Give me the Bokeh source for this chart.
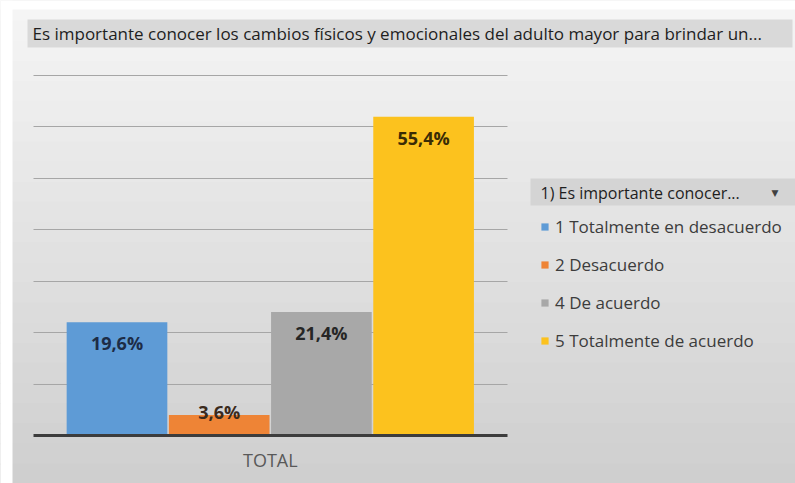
from bokeh.plotting import figure
from bokeh.models import (ColumnDataSource, Range1d, Label, Legend, LegendItem,
                          SingleIntervalTicker, FixedTicker, BoxAnnotation, Grid)
from bokeh.embed import file_html
from bokeh.resources import INLINE
from bokeh.core.properties import value

# ---- data ----
group_label = ["TOTAL"]
categories = ["1 Totalmente en desacuerdo", "2 Desacuerdo", "4 De acuerdo", "5 Totalmente de acuerdo"]
counts = [11, 2, 12, 31]            # respondents (n = 56)
pct_labels = ["19,6%", "3,6%", "21,4%", "55,4%"]
colors = ["#5e9bd6", "#ee8436", "#a8a8a8", "#fcc21e"]
label_colors = ["#1d2c46", "#3a2a1c", "#262626", "#3a2c05"]
title_text = "Es importante conocer los cambios  físicos y emocionales del adulto mayor para brindar un..."
legend_title = "1) Es importante conocer..."

W, H = 795, 483
xpos = list(range(len(categories)))
p = figure(width=W, height=H, output_backend="svg", toolbar_location=None,
           x_range=Range1d(-1.1399, 6.639), y_range=Range1d(-4.667, 42.292),
           x_axis_location=None, y_axis_location=None,
           min_border_left=0, min_border_right=0, min_border_top=0, min_border_bottom=0)
p.border_fill_color = "#e6e6e6"
p.background_fill_color = "#e6e6e6"
p.outline_line_color = None
p.grid.visible = False

# background vertical gradient (bands in screen px from bottom of canvas)
nb = 24
c0, c1 = 0xf5, 0xcf
for k in range(nb):
    t = k / (nb - 1)
    g = int(round(c0 + (c1 - c0) * t))
    col = "#%02x%02x%02x" % (g, g, g)
    top = H - k * H / nb
    bot = H - (k + 1) * H / nb - 1
    p.add_layout(BoxAnnotation(top=top, bottom=max(bot, 0), left=0, right=W,
                               top_units="screen", bottom_units="screen",
                               left_units="screen", right_units="screen",
                               fill_color=col, fill_alpha=1, line_alpha=0, level="image"))
# white outer strips
for l, r_, t_, b_ in [(0, 12, H, 0), (0, W, H, H - 9)]:
    p.add_layout(BoxAnnotation(top=t_, bottom=b_, left=l, right=r_, top_units="screen",
                               bottom_units="screen", left_units="screen", right_units="screen",
                               fill_color="white", fill_alpha=1, line_alpha=0, level="image"))

# grid lines restricted to the plot area
plot_x = (-0.817, 3.821)
p.add_layout(Grid(dimension=1, ticker=SingleIntervalTicker(interval=5), bounds=(5, 35),
                  cross_bounds=plot_x, grid_line_color="#a6a6a6", grid_line_width=1))

renderers = []
for i, cat in enumerate(categories):
    src = ColumnDataSource(dict(x=[xpos[i]], y=[counts[i]], lab=[pct_labels[i]]))
    r = p.vbar(x="x", top="y", width=0.985, source=src, fill_color=colors[i], line_color=None)
    renderers.append(r)
    p.text(x="x", y="y", text="lab", source=src,
           text_align="center", text_baseline="middle", y_offset=(21 if counts[i] > 5 else -3),
           text_font=value("Open Sans"), text_font_style="bold", text_font_size="18px",
           text_color=label_colors[i])

# baseline (axis line)
p.add_layout(Grid(dimension=1, ticker=FixedTicker(ticks=[0]), cross_bounds=plot_x,
                  grid_line_color="#3c3c3c", grid_line_width=3, level="overlay"))

# category label
p.text(x=[sum(xpos) / len(xpos)], y=[0], text=group_label, text_align="center",
       text_baseline="middle", y_offset=25, text_font=value("Open Sans"),
       text_font_size="18px", text_color="#595959")

# title box
p.add_layout(BoxAnnotation(top=464, bottom=436, left=27, right=792, top_units="screen",
                           bottom_units="screen", left_units="screen", right_units="screen",
                           fill_color="#d9d9d9", fill_alpha=1, line_alpha=0, level="underlay"))
p.add_layout(Label(x=32, y=450, x_units="screen", y_units="screen", text=title_text,
                   text_font="Open Sans", text_font_size="17px", text_color="#1e1e1e",
                   text_baseline="middle"))

# legend header box
p.add_layout(BoxAnnotation(top=305, bottom=278, left=530, right=W, top_units="screen",
                           bottom_units="screen", left_units="screen", right_units="screen",
                           fill_color="#d4d4d4", fill_alpha=1, line_alpha=0, level="underlay"))
p.add_layout(Label(x=540, y=291, x_units="screen", y_units="screen", text=legend_title,
                   text_font="Open Sans", text_font_size="16px", text_color="#1e1e1e",
                   text_baseline="middle"))
p.add_layout(Label(x=771, y=291, x_units="screen", y_units="screen", text="\u25BC",
                   text_font="DejaVu Sans", text_font_size="9px", text_color="#404040",
                   text_baseline="middle"))

legend = Legend(items=[LegendItem(label=c, renderers=[r]) for c, r in zip(categories, renderers)],
                location=(540, 131), orientation="vertical",
                label_text_font="Open Sans", label_text_font_size="17px",
                label_text_color="#3c3c3c", glyph_width=9, glyph_height=9,
                spacing=15, padding=0, margin=0, label_standoff=6,
                background_fill_alpha=0, border_line_alpha=0)
p.add_layout(legend, "center")

open("out.html", "w").write(file_html(p, INLINE))
